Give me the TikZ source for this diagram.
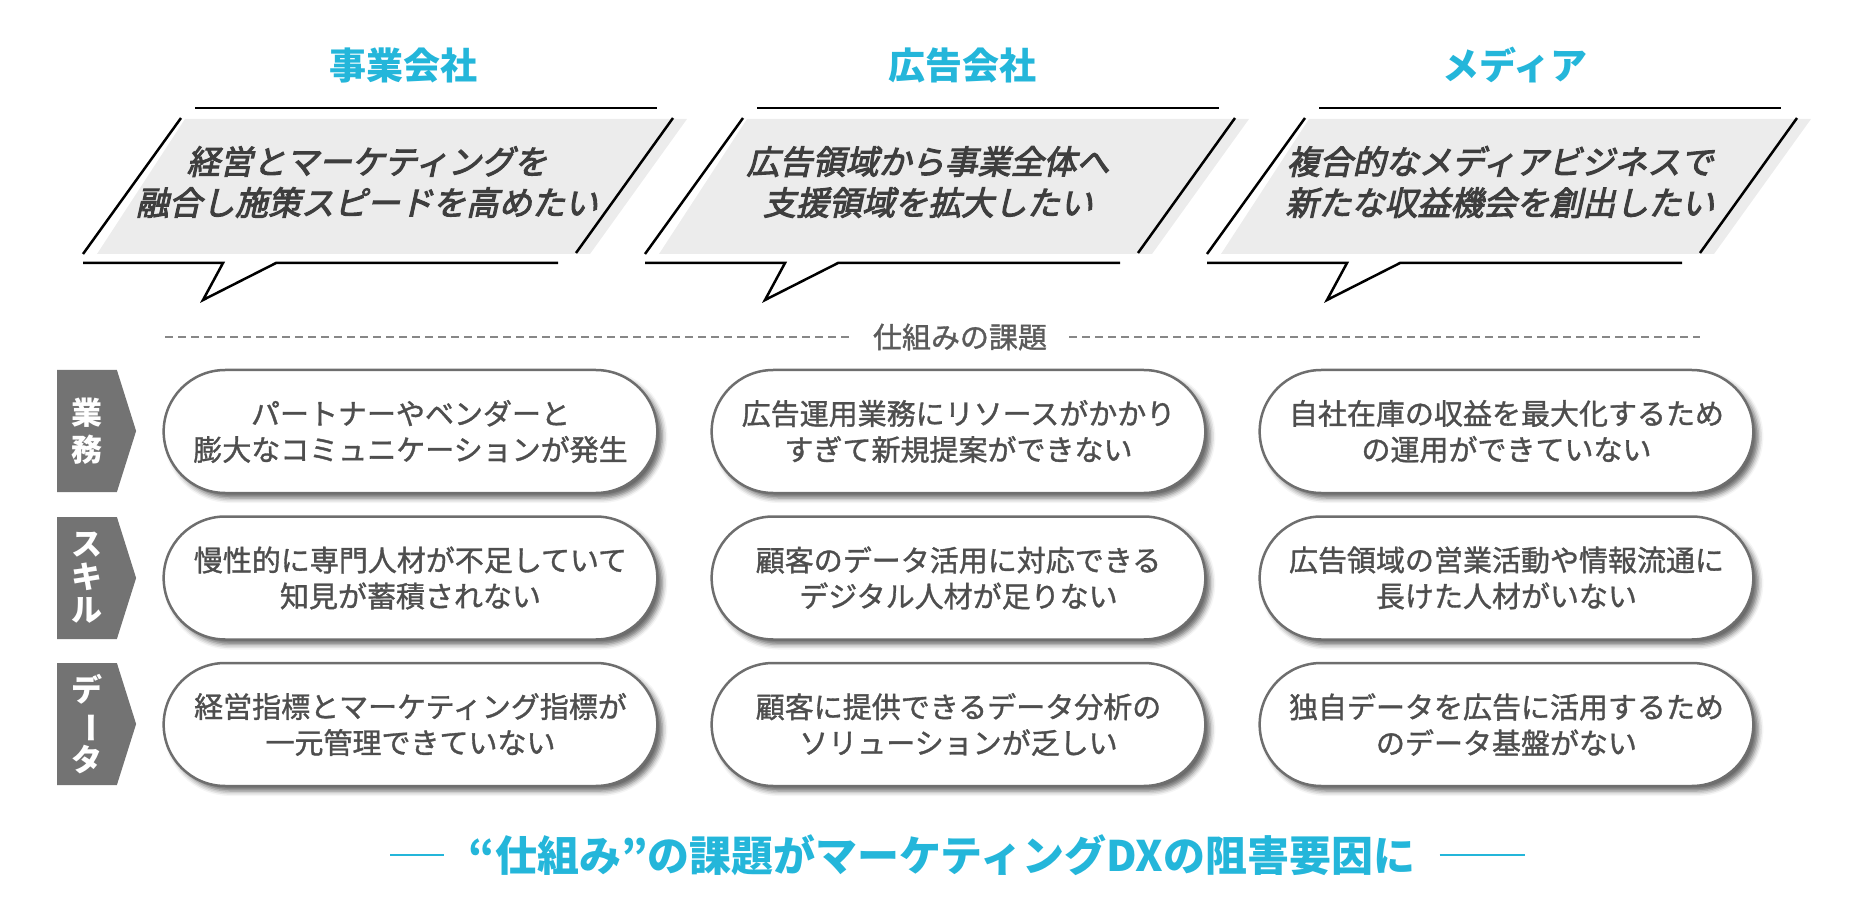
\documentclass[tikz,border=0pt]{standalone}
\usepackage{fontspec}
\setmainfont{Noto Sans CJK JP}
\newfontfamily\slantfont[FakeSlant=0.22, FakeBold=3]{Noto Sans CJK JP}
\newfontfamily\pillfont[FakeBold=1.2]{Noto Sans CJK JP}
\usetikzlibrary{shapes.misc, shapes.symbols, shadows.blur, positioning}
\definecolor{titlecyan}{RGB}{36, 182, 218}
\definecolor{darktext}{RGB}{62, 62, 62}
\definecolor{pilltext}{RGB}{78, 78, 78}
\definecolor{pillborder}{RGB}{110, 110, 110}
\definecolor{tabgray}{RGB}{115, 115, 115}
\definecolor{bubblefill}{RGB}{236, 236, 236}
\definecolor{dashgray}{RGB}{135, 135, 135}

\begin{document}
\begin{tikzpicture}[x=0.5pt, y=-0.5pt,
    bubbleline/.style={black, line width=1.25pt},
    grouptitle/.style={text=titlecyan, font=\bfseries\fontsize{18.5}{22}\selectfont},
    bubbletext/.style={text=darktext, align=center, font=\slantfont\fontsize{16.5}{20.5}\selectfont},
    tab/.style={signal, signal to=east, signal pointer angle=145, fill=tabgray, text=white, minimum width=39.5pt, minimum height=61pt, inner sep=0pt, align=center},
    pill/.style={rounded rectangle, draw=pillborder, line width=1.25pt, fill=white, minimum width=253.5pt, minimum height=61.5pt, align=center, text=pilltext, font=\pillfont\fontsize{14.5}{18}\selectfont,
        blur shadow={shadow xshift=2.5pt, shadow yshift=-2.5pt, shadow blur radius=2.5pt, shadow opacity=60}}]
        \useasboundingbox (0,0) rectangle (1854,909);

        % Titles
        \node[grouptitle] (jigyo) at (403,65) {事業会社};
        \node[grouptitle] (kokoku) at (962,65) {広告会社};
        \node[grouptitle] (media) at (1515,65) {メディア};

        % Speech bubbles
        \foreach \dx in {0,562,1124} {
            \begin{scope}[shift={(\dx,0)}]
                \fill[bubblefill] (185,119) -- (687,119) -- (590,254) -- (97,254) -- cycle;
                \draw[bubbleline] (195,108) -- (657,108);
                \draw[bubbleline] (181,118) -- (83,254);
                \draw[bubbleline] (673,118) -- (576,253);
                \draw[bubbleline] (83,263) -- (223,263) -- (203,300) -- (276,263) -- (558,263);
            \end{scope}
        }
        \node[bubbletext] (need1) at (367,182) {経営とマーケティングを\\融合し施策スピードを高めたい};
        \node[bubbletext] (need2) at (928,182) {広告領域から事業全体へ\\支援領域を拡大したい};
        \node[bubbletext] (need3) at (1500,182) {複合的なメディアビジネスで\\新たな収益機会を創出したい};

        % Section divider
        \node[text=darktext!85, inner xsep=11pt, font=\pillfont\fontsize{14.5}{16}\selectfont] (shikumi) at (960,337) {仕組みの課題};
        \coordinate (divl) at (165,337);
        \coordinate (divr) at (1700,337);
        \draw[dashgray, line width=1pt, dash pattern=on 4pt off 2.5pt] (divl) -- (shikumi.west);
        \draw[dashgray, line width=1pt, dash pattern=on 4pt off 2.5pt] (shikumi.east) -- (divr);

        % Row labels
        \node[tab, font=\bfseries\fontsize{15.5}{18.5}\selectfont] (gyomu) at (87,431) {業\\務};
        \node[tab, font=\bfseries\fontsize{15.5}{16.5}\selectfont] (skill) at (87,578) {ス\\キ\\ル};
        \node[tab, font=\bfseries\fontsize{15.5}{17}\selectfont] (data) at (87,724) {デ\\\rotatebox[origin=c]{-90}{ー}\\タ};

        % Issues
        \node[pill] (p11) at (410.5,431.5) {パートナーやベンダーと\\膨大なコミュニケーションが発生};
        \node[pill] (p12) at (958.5,431.5) {広告運用業務にリソースがかかり\\すぎて新規提案ができない};
        \node[pill] (p13) at (1506.5,431.5) {自社在庫の収益を最大化するため\\の運用ができていない};
        \node[pill] (p21) at (410.5,578) {慢性的に専門人材が不足していて\\知見が蓄積されない};
        \node[pill] (p22) at (958.5,578) {顧客のデータ活用に対応できる\\デジタル人材が足りない};
        \node[pill] (p23) at (1506.5,578) {広告領域の営業活動や情報流通に\\長けた人材がいない};
        \node[pill] (p31) at (410.5,724.5) {経営指標とマーケティング指標が\\一元管理できていない};
        \node[pill] (p32) at (958.5,724.5) {顧客に提供できるデータ分析の\\ソリューションが乏しい};
        \node[pill] (p33) at (1506.5,724.5) {独自データを広告に活用するため\\のデータ基盤がない};

        % Conclusion
        \node[text=titlecyan, inner xsep=12pt, font=\bfseries\fontsize{21}{24}\selectfont] (conclusion) at (942,855) {“仕組み”の課題がマーケティングDXの阻害要因に};
        \coordinate (concl) at (390,855);
        \coordinate (concr) at (1525,855);
        \draw[titlecyan, line width=1pt] (concl) -- (conclusion.west);
        \draw[titlecyan, line width=1pt] (conclusion.east) -- (concr);
    \end{tikzpicture}
\end{document}
